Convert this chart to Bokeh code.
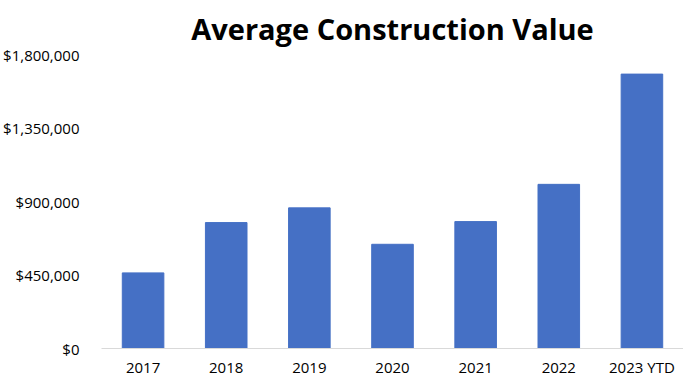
from bokeh.plotting import figure
from bokeh.models import ColumnDataSource, NumeralTickFormatter, FixedTicker, Range1d
from bokeh.embed import file_html
from bokeh.resources import INLINE

years = ["2017", "2018", "2019", "2020", "2021", "2022", "2023 YTD"]
values = [463000, 771000, 861000, 638000, 777000, 1005000, 1680000]
y_ticks = [0, 450000, 900000, 1350000, 1800000]

src = ColumnDataSource(data=dict(year=years, value=values))

p = figure(x_range=years, y_range=Range1d(0, 1800000),
           frame_width=582, frame_height=294,
           output_backend="svg", toolbar_location=None,
           title="Average Construction Value")
p.min_border_left = 95
p.min_border_right = 0
p.min_border_top = 0
p.min_border_bottom = 0

p.vbar(x="year", top="value", width=0.5, source=src, color="#4570C5")

p.title.align = "center"
p.title.text_font = "Open Sans"
p.title.text_font_style = "bold"
p.title.text_font_size = "29px"
p.title.text_color = "black"
p.title.standoff = 13

p.yaxis.ticker = FixedTicker(ticks=y_ticks)
p.yaxis.formatter = NumeralTickFormatter(format="$0,0")
for ax in (p.xaxis, p.yaxis):
    ax.major_label_text_font = "Open Sans"
    ax.major_label_text_font_size = "15px"
    ax.major_label_text_color = "black"
    ax.major_tick_line_color = None
    ax.minor_tick_line_color = None
p.yaxis.axis_line_color = None
p.yaxis.major_label_standoff = 16
p.xaxis.axis_line_color = "#d9d9d9"
p.xaxis.major_label_standoff = 2

p.xgrid.grid_line_color = None
p.ygrid.grid_line_color = None
p.outline_line_color = None
p.x_range.range_padding = 0.0

open("out.html", "w").write(file_html(p, INLINE))
